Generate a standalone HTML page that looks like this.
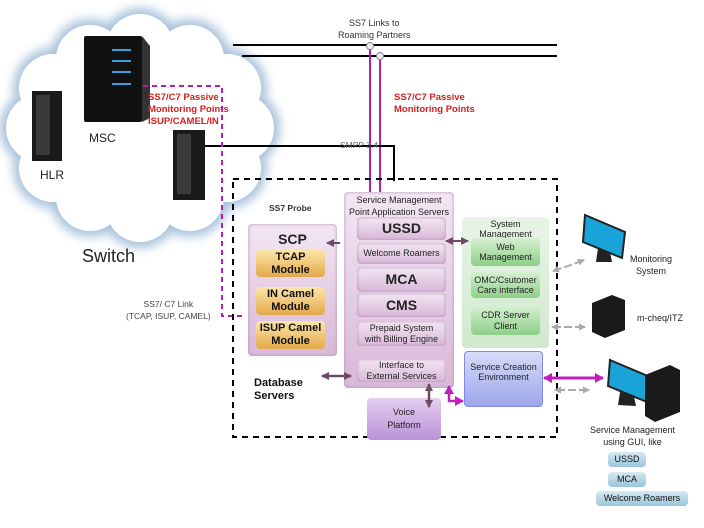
<!DOCTYPE html>
<html><head><meta charset="utf-8"><style>
body{margin:0;background:#fff;}
#c{position:relative;width:704px;height:528px;overflow:hidden;font-family:"Liberation Sans",sans-serif;}
.t{position:absolute;white-space:nowrap;text-align:center;}
.b{position:absolute;box-sizing:border-box;border-radius:4px;display:flex;align-items:center;justify-content:center;text-align:center;line-height:1.15;}
.pu{background:linear-gradient(#f3e6f3,#d8b8d8);box-shadow:inset 0 0 3px #b58bb5;color:#222;}
.or{background:linear-gradient(#fde6a8,#e2a94a);color:#111;font-weight:bold;font-size:11px;}
.gr{background:linear-gradient(#d6f0d2,#8dcf88);color:#222;font-size:9px;}
.bl{background:linear-gradient(#d8e9f2,#98c6dc);color:#111;font-size:9px;}
</style></head><body><div id="c">
<svg width="704" height="528" style="position:absolute;left:0;top:0">
<defs>
<filter id="bl" x="-20%" y="-20%" width="140%" height="140%"><feGaussianBlur stdDeviation="5"/></filter>
</defs>
<g fill="#a9c3dc" filter="url(#bl)">
<circle cx="240" cy="128" r="40"/><circle cx="227" cy="88" r="40"/><circle cx="190" cy="59" r="40"/><circle cx="140" cy="48" r="40"/>
<circle cx="90" cy="59" r="40"/><circle cx="53" cy="88" r="40"/><circle cx="40" cy="128" r="40"/><circle cx="53" cy="168" r="40"/>
<circle cx="90" cy="197" r="40"/><circle cx="140" cy="208" r="40"/><circle cx="190" cy="197" r="40"/><circle cx="227" cy="168" r="40"/>
</g>
<g fill="#fff">
<circle cx="240" cy="128" r="34"/><circle cx="227" cy="88" r="34"/><circle cx="190" cy="59" r="34"/><circle cx="140" cy="48" r="34"/>
<circle cx="90" cy="59" r="34"/><circle cx="53" cy="88" r="34"/><circle cx="40" cy="128" r="34"/><circle cx="53" cy="168" r="34"/>
<circle cx="90" cy="197" r="34"/><circle cx="140" cy="208" r="34"/><circle cx="190" cy="197" r="34"/><circle cx="227" cy="168" r="34"/>
<ellipse cx="140" cy="128" rx="112" ry="90"/>
</g>
<rect x="84" y="36" width="58" height="86" fill="#111" rx="2"/><polygon points="142,36 150,46 150,118 142,122" fill="#333"/>
<g stroke="#3aa0e0" stroke-width="2"><line x1="112" y1="50" x2="131" y2="50"/><line x1="112" y1="61" x2="131" y2="61"/><line x1="112" y1="72" x2="131" y2="72"/><line x1="112" y1="84" x2="131" y2="84"/></g>
<rect x="32" y="91" width="30" height="70" fill="#1a1a1a"/><rect x="36" y="95" width="14" height="60" fill="#3a3a3a"/>
<rect x="173" y="130" width="32" height="70" fill="#1a1a1a"/><rect x="177" y="134" width="14" height="60" fill="#3a3a3a"/>
<line x1="233" y1="45" x2="557" y2="45" stroke="#000" stroke-width="2"/>
<line x1="242" y1="56" x2="557" y2="56" stroke="#000" stroke-width="2"/>
<line x1="370" y1="46" x2="370" y2="194" stroke="#b020b0" stroke-width="2"/>
<line x1="380" y1="56" x2="380" y2="194" stroke="#b020b0" stroke-width="2"/>
<circle cx="370" cy="46" r="3.5" fill="#eee" stroke="#888"/><circle cx="380" cy="56" r="3.5" fill="#eee" stroke="#888"/>
<polyline points="205,146 394,146 394,181" fill="none" stroke="#000" stroke-width="2"/>
<polyline points="143,86 222,86 222,316 245,316" fill="none" stroke="#b020b0" stroke-width="2" stroke-dasharray="5,4"/>
<rect x="233" y="179" width="324" height="258" fill="none" stroke="#000" stroke-width="2" stroke-dasharray="6,5"/>
<polygon points="585,215 625,232 622,258 583,242" fill="#1aa3d8" stroke="#222" stroke-width="2"/>
<polygon points="598,248 610,252 612,262 596,262" fill="#222"/>
<polygon points="592,303 612,295 625,300 625,330 605,338 592,332" fill="#1a1a1a"/>
<polygon points="610,360 650,377 647,402 608,386" fill="#1aa3d8" stroke="#222" stroke-width="2"/>
<polygon points="620,392 634,397 636,406 618,405" fill="#222"/>
<polygon points="645,375 670,365 680,370 680,412 655,422 645,416" fill="#1a1a1a"/>
</svg>

<div class="t" style="left:82px;top:246px;font-size:18px;color:#222">Switch</div>
<div class="t" style="left:89px;top:131px;font-size:12px;color:#222">MSC</div>
<div class="t" style="left:40px;top:168px;font-size:12px;color:#222">HLR</div>
<div class="t" style="left:148px;top:92px;font-size:9.5px;color:#d42020;font-weight:bold;text-align:left;line-height:12px">SS7/C7 Passive<br>Monitoring Points<br>ISUP/CAMEL/IN</div>
<div class="t" style="left:394px;top:92px;font-size:9.5px;color:#d42020;font-weight:bold;text-align:left;line-height:12px">SS7/C7 Passive<br>Monitoring Points</div>
<div class="t" style="left:338px;top:17px;font-size:9px;color:#333;line-height:12px">SS7 Links to<br>Roaming Partners</div>
<div class="t" style="left:340px;top:140px;font-size:8.5px;color:#666">SMPP 3.4</div>
<div class="t" style="left:126px;top:298px;font-size:8.5px;color:#444;line-height:12px">SS7/ C7 Link<br>(TCAP, ISUP, CAMEL)</div>
<div class="t" style="left:269px;top:203px;font-size:8.5px;color:#333;font-weight:bold">SS7 Probe</div>
<div class="t" style="left:254px;top:377px;font-size:11px;color:#111;font-weight:bold;text-align:left;line-height:13px">Database<br>Servers</div>

<div class="b pu" style="left:248px;top:224px;width:89px;height:132px;align-items:flex-start;padding-top:7px;font-weight:bold;font-size:14px">SCP</div>
<div class="b or" style="left:256px;top:250px;width:69px;height:27px">TCAP<br>Module</div>
<div class="b or" style="left:256px;top:287px;width:69px;height:28px">IN Camel<br>Module</div>
<div class="b or" style="left:256px;top:321px;width:69px;height:28px">ISUP Camel<br>Module</div>

<div class="b pu" style="left:344px;top:192px;width:110px;height:196px;align-items:flex-start;padding-top:2px;font-size:9px;line-height:12px">Service Management<br>Point Application Servers</div>
<div class="b pu" style="left:357px;top:217px;width:89px;height:23px;font-weight:bold;font-size:14px">USSD</div>
<div class="b pu" style="left:357px;top:243px;width:89px;height:21px;font-size:9px">Welcome Roamers</div>
<div class="b pu" style="left:357px;top:267px;width:89px;height:25px;font-weight:bold;font-size:14px">MCA</div>
<div class="b pu" style="left:357px;top:293px;width:89px;height:24px;font-weight:bold;font-size:14px">CMS</div>
<div class="b pu" style="left:357px;top:321px;width:89px;height:25px;font-size:9px">Prepaid System<br>with Billing Engine</div>
<div class="b pu" style="left:357px;top:359px;width:89px;height:23px;font-size:9px">Interface to<br>External Services</div>

<div class="b" style="left:462px;top:217px;width:87px;height:131px;background:linear-gradient(#e8f5e6,#cfe9cc);align-items:flex-start;font-size:9px;padding-top:2px;color:#222">System<br>Management</div>
<div class="b gr" style="left:471px;top:238px;width:69px;height:28px">Web<br>Management</div>
<div class="b gr" style="left:471px;top:272px;width:69px;height:26px">OMC/Csutomer<br>Care interface</div>
<div class="b gr" style="left:471px;top:306px;width:69px;height:29px">CDR Server<br>Client</div>

<div class="b" style="left:464px;top:351px;width:79px;height:56px;background:linear-gradient(#d6dcf8,#9ca6ea);border:1px solid #7f8ae0;align-items:flex-start;padding-top:10px;font-size:9px;color:#222">Service Creation<br>Environment</div>
<div class="b" style="left:367px;top:398px;width:74px;height:42px;background:linear-gradient(#e4cff0,#bb92d8);font-size:9px;line-height:13px;color:#222">Voice<br>Platform</div>

<div class="t" style="left:630px;top:253px;font-size:9px;color:#222;line-height:12px">Monitoring<br>System</div>
<div class="t" style="left:637px;top:313px;font-size:9px;color:#222">m-cheq/ITZ</div>
<div class="t" style="left:590px;top:424px;font-size:9px;color:#222;line-height:12px">Service Management<br>using GUI, like</div>
<div class="b bl" style="left:608px;top:452px;width:38px;height:15px">USSD</div>
<div class="b bl" style="left:608px;top:472px;width:38px;height:15px">MCA</div>
<div class="b bl" style="left:596px;top:491px;width:92px;height:15px">Welcome Roamers</div>

<svg width="704" height="528" style="position:absolute;left:0;top:0">
<defs>
<marker id="ap" markerUnits="userSpaceOnUse" markerWidth="8" markerHeight="8" refX="7" refY="4" orient="auto"><path d="M0,0L8,4L0,8z" fill="#6e4a66"/></marker>
<marker id="am" markerUnits="userSpaceOnUse" markerWidth="9" markerHeight="10" refX="8" refY="5" orient="auto"><path d="M0,0L9,5L0,10z" fill="#c020c0"/></marker>
<marker id="ag" markerUnits="userSpaceOnUse" markerWidth="7" markerHeight="7" refX="6" refY="3.5" orient="auto"><path d="M0,0L7,3.5L0,7z" fill="#aaa"/></marker>
</defs>
<line x1="340" y1="243" x2="327" y2="243" stroke="#6e4a66" stroke-width="2" marker-end="url(#ap)"/>
<line x1="456" y1="241" x2="446" y2="241" stroke="#6e4a66" stroke-width="2" marker-end="url(#ap)"/>
<line x1="456" y1="241" x2="468" y2="241" stroke="#6e4a66" stroke-width="2" marker-end="url(#ap)"/>
<line x1="336" y1="376" x2="322" y2="376" stroke="#6e4a66" stroke-width="2.5" marker-end="url(#ap)"/>
<line x1="336" y1="376" x2="351" y2="376" stroke="#6e4a66" stroke-width="2.5" marker-end="url(#ap)"/>
<line x1="429" y1="395" x2="429" y2="384" stroke="#6e4a66" stroke-width="2.5" marker-end="url(#ap)"/>
<line x1="429" y1="395" x2="429" y2="407" stroke="#6e4a66" stroke-width="2.5" marker-end="url(#ap)"/>
<polyline points="449,393 449,401 463,401" fill="none" stroke="#c020c0" stroke-width="2.5" marker-end="url(#am)"/>
<line x1="449" y1="395" x2="449" y2="386" stroke="#c020c0" stroke-width="2.5" marker-end="url(#am)"/>
<line x1="573" y1="378" x2="544" y2="378" stroke="#c020c0" stroke-width="3" marker-end="url(#am)"/>
<line x1="573" y1="378" x2="603" y2="378" stroke="#c020c0" stroke-width="3" marker-end="url(#am)"/>
<g stroke="#aaa" stroke-width="2" stroke-dasharray="4,3">
<line x1="568" y1="266" x2="553" y2="271" marker-end="url(#ag)"/><line x1="568" y1="266" x2="584" y2="260" marker-end="url(#ag)"/>
<line x1="568" y1="327" x2="552" y2="327" marker-end="url(#ag)"/><line x1="568" y1="327" x2="585" y2="327" marker-end="url(#ag)"/>
<line x1="572" y1="390" x2="555" y2="390" marker-end="url(#ag)"/><line x1="572" y1="390" x2="589" y2="390" marker-end="url(#ag)"/>
</g>
</svg>
</div></body></html>
